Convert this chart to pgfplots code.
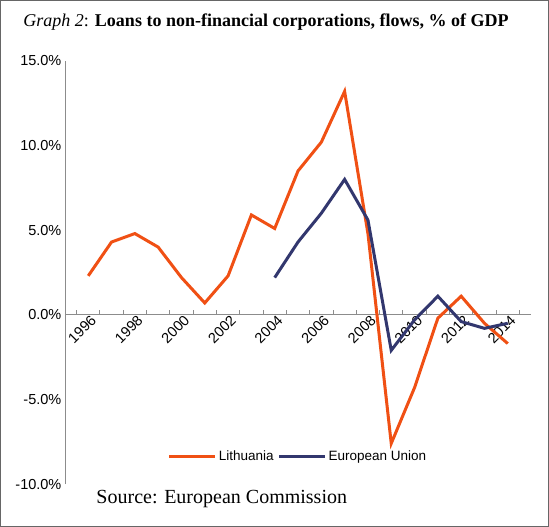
\documentclass[border=0pt]{standalone}
\usepackage{pgfplots}
\pgfplotsset{compat=1.18}
\usepackage{fontspec}
\setmainfont{Liberation Serif}
\newfontfamily\arial{Liberation Sans}
\begin{document}
\begin{tikzpicture}[x=1pt,y=1pt]
\draw[black!60,line width=0.8pt] (0.5,0.5) rectangle (548.5,526.5);
\begin{axis}[at={(65pt,43pt)},anchor=south west, scale only axis,width=466pt,height=423pt,
 xmin=1995,xmax=2015,ymin=-10,ymax=15,
 axis x line=middle, axis y line=left, axis line style={black!45,line width=0.8pt,-},
 ytick={-10,-5,0,5,10,15}, yticklabel={\pgfmathprintnumber[fixed,fixed zerofill,precision=1]{\tick}\%},
 xtick={1996,1998,...,2014}, xticklabel style={rotate=45,anchor=east,xshift=5pt,yshift=-6pt},
 xticklabel={\pgfmathprintnumber[1000 sep={},fixed,precision=0]{\tick}},
 extra x ticks={1995.5,1996.5,...,2014.5}, extra x tick labels={},
 extra x tick style={major tick length=5pt,xtick style={draw=black!45,line width=0.8pt},tick align=inside},
 major tick length=0pt,
 ytick style={black!45,line width=0.8pt},
 y tick label style={font=\arial\fontsize{14.5}{16}\selectfont},
 x tick label style={font=\arial\fontsize{14.5}{16}\selectfont},
 /pgf/number format/assume math mode=true,
 clip=false,
 legend style={at={(0.5,0.065)},anchor=center,draw=none,fill=none,legend columns=2,font=\arial\fontsize{13.5}{15}\selectfont,/tikz/every even column/.append style={column sep=2pt}},
 legend image code/.code={\draw[#1,line width=3pt] (0pt,0pt) -- (46pt,0pt);},
 ]
\addplot[color={rgb,255:red,240;green,80;blue,20},line width=3pt] coordinates {
(1996,2.3)(1997,4.3)(1998,4.8)(1999,4.0)(2000,2.2)(2001,0.7)(2002,2.3)(2003,5.9)(2004,5.1)(2005,8.5)(2006,10.2)(2007,13.2)(2008,4.8)(2009,-7.6)(2010,-4.3)(2011,-0.2)(2012,1.1)(2013,-0.5)(2014,-1.7)};
\addplot[color={rgb,255:red,50;green,55;blue,110},line width=3pt] coordinates {
(2004,2.2)(2005,4.3)(2006,6.0)(2007,8.0)(2008,5.6)(2009,-2.1)(2010,-0.3)(2011,1.1)(2012,-0.4)(2013,-0.8)(2014,-0.5)};
\legend{Lithuania,European Union}
\end{axis}
\node[anchor=west] at (20,505) {\fontsize{18}{20}\selectfont\textit{Graph 2}: \textbf{Loans to non-financial corporations, flows, \% of GDP}};
\node[anchor=west] at (93,28) {\fontsize{20}{22}\selectfont Source: European Commission};
\end{tikzpicture}
\end{document}
